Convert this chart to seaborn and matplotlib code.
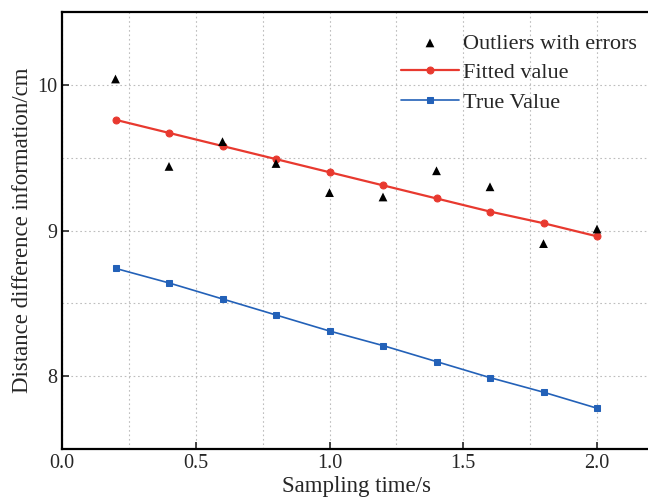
import numpy as np
import pandas as pd
import matplotlib.pyplot as plt
import seaborn as sns

time_s = [0.2, 0.4, 0.6, 0.8, 1.0, 1.2, 1.4, 1.6, 1.8, 2.0]
outliers = [10.04, 9.44, 9.61, 9.46, 9.26, 9.23, 9.41, 9.30, 8.91, 9.01]
fitted = [9.76, 9.67, 9.58, 9.49, 9.40, 9.31, 9.22, 9.13, 9.05, 8.96]
true_val = [8.74, 8.64, 8.53, 8.42, 8.31, 8.21, 8.10, 7.99, 7.89, 7.78]

df = pd.DataFrame({"t": time_s, "out": outliers, "fit": fitted, "true": true_val})

sns.set_style("ticks")
plt.rcParams["font.family"] = ["Liberation Serif", "DejaVu Serif"]

fig = plt.figure(figsize=(6.48, 4.99), dpi=100)
ax = fig.add_axes([62 / 648, 50 / 499, 588.5 / 648, 437 / 499])

sns.scatterplot(x="t", y="out", data=df, marker="^", color="black", s=40,
                edgecolor="none", label="Outliers with errors", ax=ax, zorder=3)
sns.lineplot(x="t", y="fit", data=df, color="#e8392f", marker="o", markersize=5,
             markeredgecolor="#e8392f", linewidth=1.6, label="Fitted value", ax=ax)
sns.lineplot(x="t", y="true", data=df, color="#2361b8", marker="s", markersize=4.5,
             markeredgecolor="#2361b8", linewidth=1.2, label="True Value", ax=ax)

ax.set_xlim(0, 2.2)
ax.set_ylim(7.5, 10.5)
ax.set_xticks([0.0, 0.5, 1.0, 1.5, 2.0])
ax.set_xticks(np.arange(0.25, 2.2, 0.5), minor=True)
ax.set_yticks([8, 9, 10])
ax.set_yticks([7.5, 8.5, 9.5], minor=True)
ax.tick_params(which="major", direction="in", length=5, width=1.2, labelsize=14.5)
ax.tick_params(which="minor", length=0)
ax.grid(True, which="both", linestyle=(0, (1.5, 2.5)), color="#bdbdbd", linewidth=0.8)
for sp in ax.spines.values():
    sp.set_linewidth(1.6)
    sp.set_color("black")

ax.set_xlabel("Sampling time/s", fontsize=16.5, labelpad=2)
ax.set_ylabel("Distance difference information/cm", fontsize=16.5, labelpad=3)

ax.legend(loc="upper right", bbox_to_anchor=(1.0, 0.982), frameon=False, fontsize=16,
          handlelength=2.6, handletextpad=0.2, labelspacing=0.4, borderaxespad=0.2)

plt.savefig("out.png", dpi=100)
